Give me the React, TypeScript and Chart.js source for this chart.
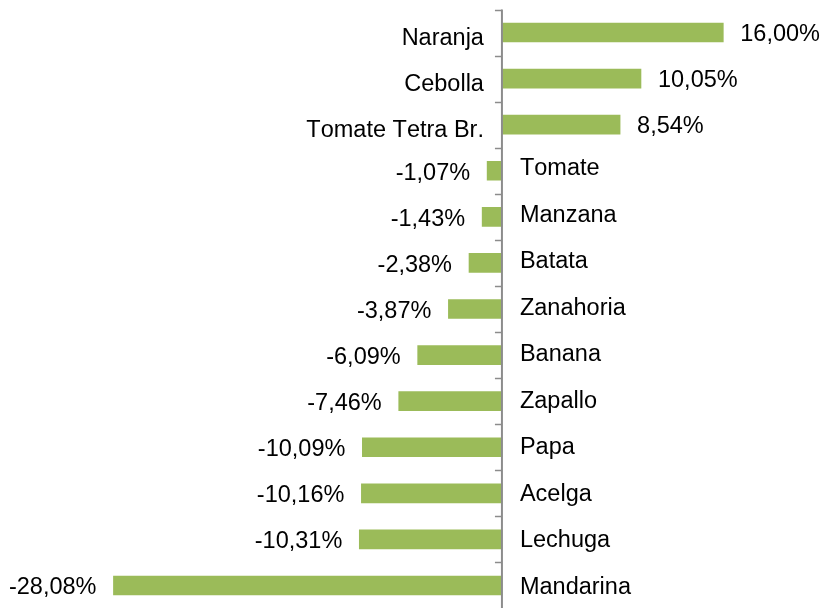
import React, { useEffect, useRef } from "react";
import { Chart, registerables } from "chart.js";

Chart.register(...registerables);

const categories = [
  "Naranja",
  "Cebolla",
  "Tomate Tetra Br.",
  "Tomate",
  "Manzana",
  "Batata",
  "Zanahoria",
  "Banana",
  "Zapallo",
  "Papa",
  "Acelga",
  "Lechuga",
  "Mandarina",
];

const values = [16.0, 10.05, 8.54, -1.07, -1.43, -2.38, -3.87, -6.09, -7.46, -10.09, -10.16, -10.31, -28.08];

const FONT = "23.5px 'Liberation Sans', Arial, sans-serif";
const BAR_COLOR = "#9BBB59";
const AXIS_COLOR = "#8C8C8C";

const fmt = (v: number) => v.toFixed(2).replace(".", ",") + "%";

const labelPlugin = {
  id: "customLabels",
  afterDatasetsDraw(chart: any) {
    const ctx = chart.ctx;
    const xs = chart.scales.x;
    const ys = chart.scales.y;
    const x0 = xs.getPixelForValue(0);
    const n = categories.length;
    const step = n > 1 ? ys.getPixelForValue(1) - ys.getPixelForValue(0) : 40;
    ctx.save();
    // axis line
    ctx.strokeStyle = AXIS_COLOR;
    ctx.lineWidth = 2;
    const top = ys.getPixelForValue(0) - step / 2;
    const bottom = ys.getPixelForValue(n - 1) + step / 2;
    ctx.beginPath();
    ctx.moveTo(x0, top);
    ctx.lineTo(x0, bottom + 2);
    ctx.stroke();
    ctx.lineWidth = 1.5;
    for (let i = 0; i <= n; i++) {
      const y = Math.round(ys.getPixelForValue(0) - step / 2 + i * step) + 0.5;
      ctx.beginPath();
      ctx.moveTo(x0 - 7, y);
      ctx.lineTo(x0, y);
      ctx.stroke();
    }
    // labels
    ctx.font = FONT;
    try {
      ctx.fontKerning = "none";
    } catch (e) {}
    ctx.fillStyle = "#000000";
    ctx.textBaseline = "alphabetic";
    const gap = 17;
    let negIndex = 0;
    values.forEach((v, i) => {
      const yc = ys.getPixelForValue(i);
      const xv = xs.getPixelForValue(v);
      if (v >= 0) {
        ctx.textAlign = "left";
        ctx.fillText(fmt(v), xv + gap, yc + 8.5);
        ctx.textAlign = "right";
        ctx.fillText(categories[i], x0 - gap - 1, yc + 12);
      } else {
        ctx.textAlign = "right";
        ctx.fillText(fmt(v), xv - gap, yc + 9);
        ctx.textAlign = "left";
        ctx.fillText(categories[i], x0 + gap + 1, yc + 4.6 + negIndex * 0.42);
        negIndex++;
      }
    });
    ctx.restore();
  },
};

export default function App() {
  const ref = useRef<HTMLCanvasElement | null>(null);
  useEffect(() => {
    if (!ref.current) return;
    const chart = new Chart(ref.current, {
      type: "bar",
      data: {
        labels: categories,
        datasets: [
          {
            data: values,
            backgroundColor: BAR_COLOR,
            borderWidth: 0,
            barThickness: 19,
          },
        ],
      },
      options: {
        indexAxis: "y",
        animation: false,
        responsive: false,
        layout: { padding: { top: 9.5, bottom: 1.5, left: 0, right: 0 } },
        plugins: { legend: { display: false }, tooltip: { enabled: false } },
        scales: {
          x: { display: false, min: -36.28, max: 23.64 },
          y: { display: false, offset: true },
        },
      },
      plugins: [labelPlugin],
    });
    return () => chart.destroy();
  }, []);
  return (
    <div style={{ position: "fixed", left: 0, top: 0, width: 829, height: 608, overflow: "hidden", background: "#fff" }}>
      <canvas ref={ref} width={829} height={610} style={{ display: "block" }} />
    </div>
  );
}
